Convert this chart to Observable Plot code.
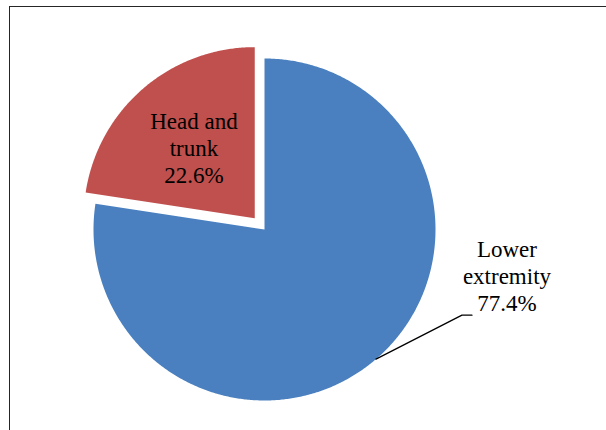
<!DOCTYPE html>
<html>
<head>
<meta charset="utf-8">
<script src="https://cdn.jsdelivr.net/npm/d3@7"></script>
<script src="https://cdn.jsdelivr.net/npm/@observablehq/plot@0.6"></script>
<style>
  html, body { margin: 0; padding: 0; background: #fff; overflow: hidden; }
  #wrap { position: relative; width: 606px; height: 430px; }
  #frame { position: absolute; left: 9px; top: 6px; width: 700px; height: 500px;
           border-top: 1.5px solid #262626; border-left: 1.5px solid #262626; }
  #chart { position: absolute; left: 0; top: 0; }
  #chart svg text { font-family: "Liberation Serif", "Times New Roman", serif !important; }
</style>
</head>
<body>
<div id="wrap"><div id="frame"></div><div id="chart"></div></div>
<script>
// ---- data ----
const categories = ["Lower extremity", "Head and trunk"];
const labelText = ["Lower\nextremity", "Head and\ntrunk"];
const values = [77.4, 22.6];
const colors = ["#4A80BF", "#C0504D"];
const exploded = [false, true];

// ---- layout ----
const W = 606, H = 430;
const cx = 264, cy = 229, R = 171, explode = 15;

const pie = d3.pie().sort(null).value(d => d.value);
const slices = pie(categories.map((c, i) => ({category: c, value: values[i], label: labelText[i], color: colors[i], exploded: exploded[i]})));

const pt = (x0, y0, r, a) => [x0 + r * Math.sin(a), y0 - r * Math.cos(a)];

const polys = slices.map(s => {
  const mid = (s.startAngle + s.endAngle) / 2;
  const off = s.data.exploded ? explode : 0;
  const [vx, vy] = pt(cx, cy, off, mid);
  const pts = [{x: vx, y: vy}];
  const n = Math.max(8, Math.ceil((s.endAngle - s.startAngle) * 120));
  for (let k = 0; k <= n; k++) {
    const a = s.startAngle + (s.endAngle - s.startAngle) * k / n;
    const [x, y] = pt(vx, vy, R, a);
    pts.push({x, y});
  }
  pts.push({x: vx, y: vy});
  return {s, mid, vx, vy, pts};
});

const marks = [];
polys.forEach(p => {
  marks.push(Plot.line(p.pts, {x: "x", y: "y", fill: p.s.data.color, stroke: "none", curve: "linear"}));
});

const labels = [];
const leaders = [];
polys.forEach(p => {
  const txt = p.s.data.label + "\n" + p.s.data.value.toFixed(1) + "%";
  if (p.s.data.exploded) {
    const [lx, ly] = pt(p.vx, p.vy, R * 0.545, p.mid);
    labels.push({x: lx, y: ly, text: txt});
  } else {
    const [sx, sy] = pt(p.vx, p.vy, R, p.mid);
    const ex = sx + 86, ey = sy - 44;
    leaders.push({x: sx, y: sy}, {x: ex, y: ey}, {x: ex + 10, y: ey});
    labels.push({x: ex + 45, y: ey - 40, text: txt});
  }
});

marks.push(Plot.line(leaders, {x: "x", y: "y", stroke: "#000", strokeWidth: 1.3}));
marks.push(Plot.text(labels, {
  x: "x", y: "y", text: "text", fill: "#000",
  fontSize: 23, fontFamily: "Liberation Serif",
  lineHeight: 1.17, textAnchor: "middle", lineAnchor: "middle"
}));

const chart = Plot.plot({
  width: W, height: H,
  margin: 0,
  x: {domain: [0, W], range: [0, W], axis: null},
  y: {domain: [0, H], range: [0, H], axis: null},
  style: {background: "transparent", fontFamily: "Liberation Serif"},
  marks
});
document.getElementById("chart").appendChild(chart);
</script>
</body>
</html>
